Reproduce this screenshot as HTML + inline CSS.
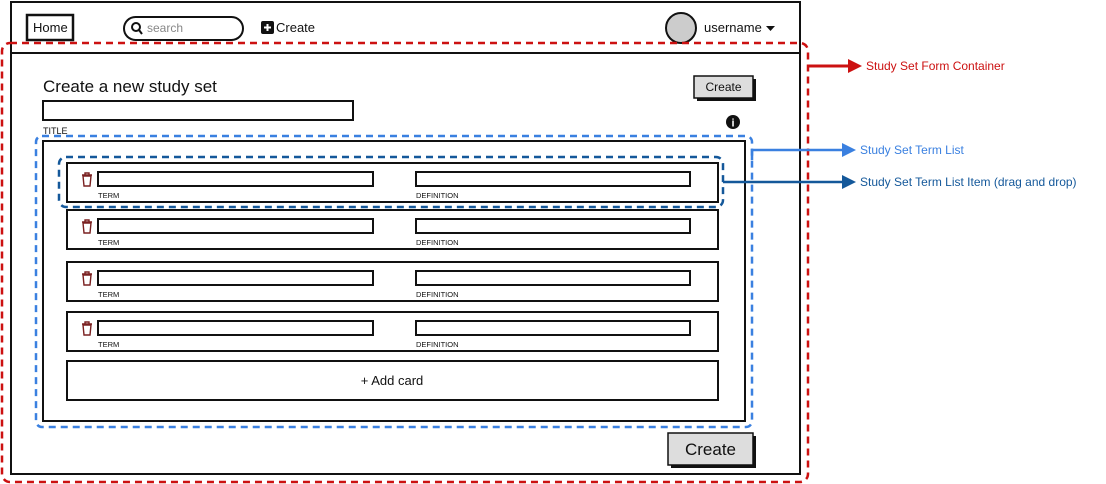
<!DOCTYPE html>
<html><head><meta charset="utf-8"><style>
html,body{margin:0;padding:0;background:#fff;width:1106px;height:484px;overflow:hidden}
svg text{font-family:"Liberation Sans",sans-serif}
</style></head><body>
<svg width="1106" height="484" xmlns="http://www.w3.org/2000/svg">
<rect x="11" y="2" width="789" height="51" fill="#fff" stroke="#111" stroke-width="2"/>
<rect x="27" y="15" width="46" height="25" fill="#fff" stroke="#111" stroke-width="2.5"/>
<text x="33" y="32" font-size="13" fill="#111">Home</text>
<rect x="124" y="17" width="119" height="23" rx="11.5" fill="#fff" stroke="#111" stroke-width="2"/>
<circle cx="136" cy="27" r="4" fill="none" stroke="#111" stroke-width="2"/>
<line x1="139" y1="30" x2="142" y2="34" stroke="#111" stroke-width="2"/>
<text x="147" y="32" font-size="12" fill="#888">search</text>
<rect x="261" y="21" width="13" height="13" rx="2" fill="#111"/>
<path d="M267.5 24v7M264 27.5h7" stroke="#fff" stroke-width="2"/>
<text x="276" y="32" font-size="13" fill="#111">Create</text>
<circle cx="681" cy="28" r="15" fill="#ccc" stroke="#111" stroke-width="2"/>
<text x="704" y="32" font-size="13" fill="#111">username</text>
<path d="M766 26h9l-4.5 5z" fill="#111"/>
<rect x="11" y="53" width="789" height="421" fill="#fff" stroke="#111" stroke-width="2"/>
<text x="43" y="92" font-size="17" fill="#111">Create a new study set</text>
<rect x="43" y="101" width="310" height="19" fill="#fff" stroke="#111" stroke-width="2"/>
<text x="43" y="134" font-size="9" fill="#111">TITLE</text>
<rect x="697" y="79" width="59" height="22" fill="#111"/>
<rect x="694" y="76" width="59" height="22" fill="#ddd" stroke="#111" stroke-width="1.5"/>
<text x="723.5" y="91" font-size="12" text-anchor="middle" fill="#111">Create</text>
<circle cx="733" cy="122" r="7" fill="#111"/>
<text x="733" y="126.5" font-size="11" font-weight="bold" text-anchor="middle" fill="#fff" font-family="Liberation Serif">i</text>
<rect x="43" y="141" width="702" height="280" fill="#fff" stroke="#111" stroke-width="2"/>
<g>
<rect x="67" y="163" width="651" height="39" fill="#fff" stroke="#111" stroke-width="2"/>
<rect x="98" y="172" width="275" height="14" fill="#fff" stroke="#111" stroke-width="2"/>
<rect x="416" y="172" width="274" height="14" fill="#fff" stroke="#111" stroke-width="2"/>
<text x="98" y="198" font-size="7.5" fill="#111">TERM</text><text x="416" y="198" font-size="7.5" fill="#111">DEFINITION</text>
<path d="M82 175h10M85 175v-2h4v2M83 176h8l-1 10h-6z" fill="none" stroke="#7a2020" stroke-width="1.4"/>
</g>
<g transform="translate(0,47)">
<rect x="67" y="163" width="651" height="39" fill="#fff" stroke="#111" stroke-width="2"/>
<rect x="98" y="172" width="275" height="14" fill="#fff" stroke="#111" stroke-width="2"/>
<rect x="416" y="172" width="274" height="14" fill="#fff" stroke="#111" stroke-width="2"/>
<text x="98" y="198" font-size="7.5" fill="#111">TERM</text><text x="416" y="198" font-size="7.5" fill="#111">DEFINITION</text>
<path d="M82 175h10M85 175v-2h4v2M83 176h8l-1 10h-6z" fill="none" stroke="#7a2020" stroke-width="1.4"/>
</g>
<g transform="translate(0,99)">
<rect x="67" y="163" width="651" height="39" fill="#fff" stroke="#111" stroke-width="2"/>
<rect x="98" y="172" width="275" height="14" fill="#fff" stroke="#111" stroke-width="2"/>
<rect x="416" y="172" width="274" height="14" fill="#fff" stroke="#111" stroke-width="2"/>
<text x="98" y="198" font-size="7.5" fill="#111">TERM</text><text x="416" y="198" font-size="7.5" fill="#111">DEFINITION</text>
<path d="M82 175h10M85 175v-2h4v2M83 176h8l-1 10h-6z" fill="none" stroke="#7a2020" stroke-width="1.4"/>
</g>
<g transform="translate(0,149)">
<rect x="67" y="163" width="651" height="39" fill="#fff" stroke="#111" stroke-width="2"/>
<rect x="98" y="172" width="275" height="14" fill="#fff" stroke="#111" stroke-width="2"/>
<rect x="416" y="172" width="274" height="14" fill="#fff" stroke="#111" stroke-width="2"/>
<text x="98" y="198" font-size="7.5" fill="#111">TERM</text><text x="416" y="198" font-size="7.5" fill="#111">DEFINITION</text>
<path d="M82 175h10M85 175v-2h4v2M83 176h8l-1 10h-6z" fill="none" stroke="#7a2020" stroke-width="1.4"/>
</g>
<rect x="67" y="361" width="651" height="39" fill="#fff" stroke="#111" stroke-width="2"/>
<text x="392" y="385" font-size="13" text-anchor="middle" fill="#111">+  Add card</text>
<rect x="671" y="436" width="85" height="32" fill="#111"/>
<rect x="668" y="433" width="85" height="32" fill="#ddd" stroke="#111" stroke-width="1.5"/>
<text x="710.5" y="455" font-size="17" text-anchor="middle" fill="#111">Create</text>
<rect x="2" y="43" width="806" height="439" rx="8" fill="none" stroke="#cc1111" stroke-width="2.5" stroke-dasharray="7,5"/>
<rect x="36" y="136" width="716" height="291" rx="6" fill="none" stroke="#3a80e0" stroke-width="2.5" stroke-dasharray="7,5"/>
<rect x="59" y="157" width="664" height="50" rx="7" fill="none" stroke="#14589a" stroke-width="2.5" stroke-dasharray="7,5"/>
<line x1="808" y1="66" x2="850" y2="66" stroke="#cc1111" stroke-width="3"/>
<path d="M848 59l14 7-14 7z" fill="#cc1111"/>
<text x="866" y="70" font-size="12" fill="#cc1111">Study Set Form Container</text>
<path d="M752 160v-10h92" fill="none" stroke="#3a80e0" stroke-width="2.5"/>
<path d="M842 143l14 7-14 7z" fill="#3a80e0"/>
<text x="860" y="154" font-size="12" fill="#3a80e0">Study Set Term List</text>
<line x1="723" y1="182" x2="844" y2="182" stroke="#14589a" stroke-width="2.5"/>
<path d="M842 175l14 7-14 7z" fill="#14589a"/>
<text x="860" y="186" font-size="12" fill="#14589a">Study Set Term List Item (drag and drop)</text>
</svg>
</body></html>
